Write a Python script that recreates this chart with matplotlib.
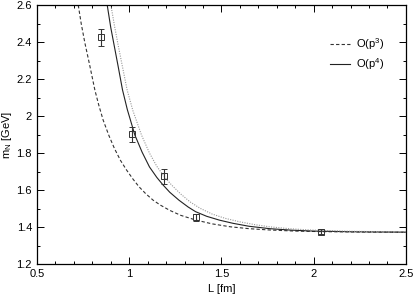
import numpy as np
import matplotlib.pyplot as plt
from matplotlib.ticker import MultipleLocator

plt.rcParams['font.family'] = ['Liberation Sans', 'DejaVu Sans']
plt.rcParams['mathtext.fontset'] = 'custom'
plt.rcParams['mathtext.rm'] = 'Liberation Sans'
plt.rcParams['mathtext.it'] = 'Liberation Sans'

# lattice data
L_data = [0.847, 1.016, 1.188, 1.360, 2.038]
m_data = [2.425, 1.901, 1.675, 1.452, 1.375]
m_err = [0.048, 0.040, 0.040, 0.018, 0.012]

# O(p^3) curve
L_p3 = [0.724, 0.74, 0.76, 0.785, 0.814, 0.835, 0.859, 0.89, 0.92, 0.953,
        0.986, 1.02, 1.053, 1.09, 1.13, 1.17, 1.22, 1.28, 1.36, 1.45,
        1.55, 1.65, 1.76, 1.9, 2.05, 2.25, 2.5]
m_p3 = [2.60, 2.50, 2.395, 2.28, 2.141, 2.06, 1.978, 1.895, 1.825, 1.76,
        1.708, 1.66, 1.618, 1.58, 1.545, 1.518, 1.49, 1.463, 1.438, 1.417,
        1.401, 1.391, 1.384, 1.378, 1.375, 1.373, 1.372]

# O(p^4) curve
L_p4 = [0.881, 0.90, 0.92, 0.94, 0.964, 0.99, 1.031, 1.07, 1.11, 1.15,
        1.184, 1.22, 1.27, 1.32, 1.36, 1.42, 1.49, 1.563, 1.65, 1.762,
        1.88, 2.0, 2.2, 2.5]
m_p4 = [2.6, 2.48, 2.375, 2.27, 2.141, 2.035, 1.897, 1.805, 1.725, 1.668,
        1.627, 1.588, 1.545, 1.508, 1.483, 1.458, 1.437, 1.42, 1.404, 1.391,
        1.383, 1.378, 1.3745, 1.372]

# dotted curve
L_dot = [0.901, 0.92, 0.94, 0.963, 0.989, 1.02, 1.067, 1.11, 1.15, 1.188,
         1.23, 1.28, 1.33, 1.383, 1.45, 1.52, 1.6, 1.68, 1.762, 1.88,
         2.0, 2.2, 2.5]
m_dot = [2.6, 2.49, 2.385, 2.27, 2.141, 2.03, 1.897, 1.80, 1.728, 1.675,
         1.627, 1.578, 1.536, 1.502, 1.47, 1.447, 1.428, 1.413, 1.401, 1.39,
         1.383, 1.377, 1.373]

fig = plt.figure(figsize=(4.15, 3.0), dpi=100)
ax = fig.add_axes([0.089, 0.12, 0.889, 0.863])

ax.plot(L_p3, m_p3, color='#333333', lw=0.8, ls=(0, (3, 2)), label='O(p$^3$)')
ax.plot(L_p4, m_p4, color='#222222', lw=0.8, label='O(p$^4$)')
ax.plot(L_dot, m_dot, color='#999999', lw=0.8, ls=(0, (1, 1.2)))
ax.errorbar(L_data, m_data, yerr=m_err, fmt='s', ms=4, mfc='none', mec='#333333',
            ecolor='#333333', elinewidth=0.8, capsize=2.5, capthick=0.8, mew=0.7)

ax.set_xlim(0.5, 2.5)
ax.set_ylim(1.2, 2.6)
ax.set_xticks([0.5, 1.0, 1.5, 2.0, 2.5])
ax.set_xticklabels(['0.5', '1', '1.5', '2', '2.5'])
ax.set_yticks([1.2, 1.4, 1.6, 1.8, 2.0, 2.2, 2.4, 2.6])
ax.set_yticklabels(['1.2', '1.4', '1.6', '1.8', '2', '2.2', '2.4', '2.6'])
ax.xaxis.set_minor_locator(MultipleLocator(0.1))
ax.yaxis.set_minor_locator(MultipleLocator(0.1))
ax.tick_params(which='both', direction='in', top=True, right=True, labelsize=8, width=0.7)
ax.tick_params(which='major', length=5)
ax.tick_params(which='minor', length=2.5)
for s in ax.spines.values():
    s.set_linewidth(0.9)

ax.set_xlabel('L [fm]', fontsize=8)
ax.set_ylabel('m$_N$ [GeV]', fontsize=8, labelpad=2)

ax.legend(loc='upper right', bbox_to_anchor=(0.97, 0.92), frameon=False, fontsize=8,
          handlelength=1.8, handletextpad=0.6, labelspacing=0.4)

fig.savefig('out.png', dpi=100)
